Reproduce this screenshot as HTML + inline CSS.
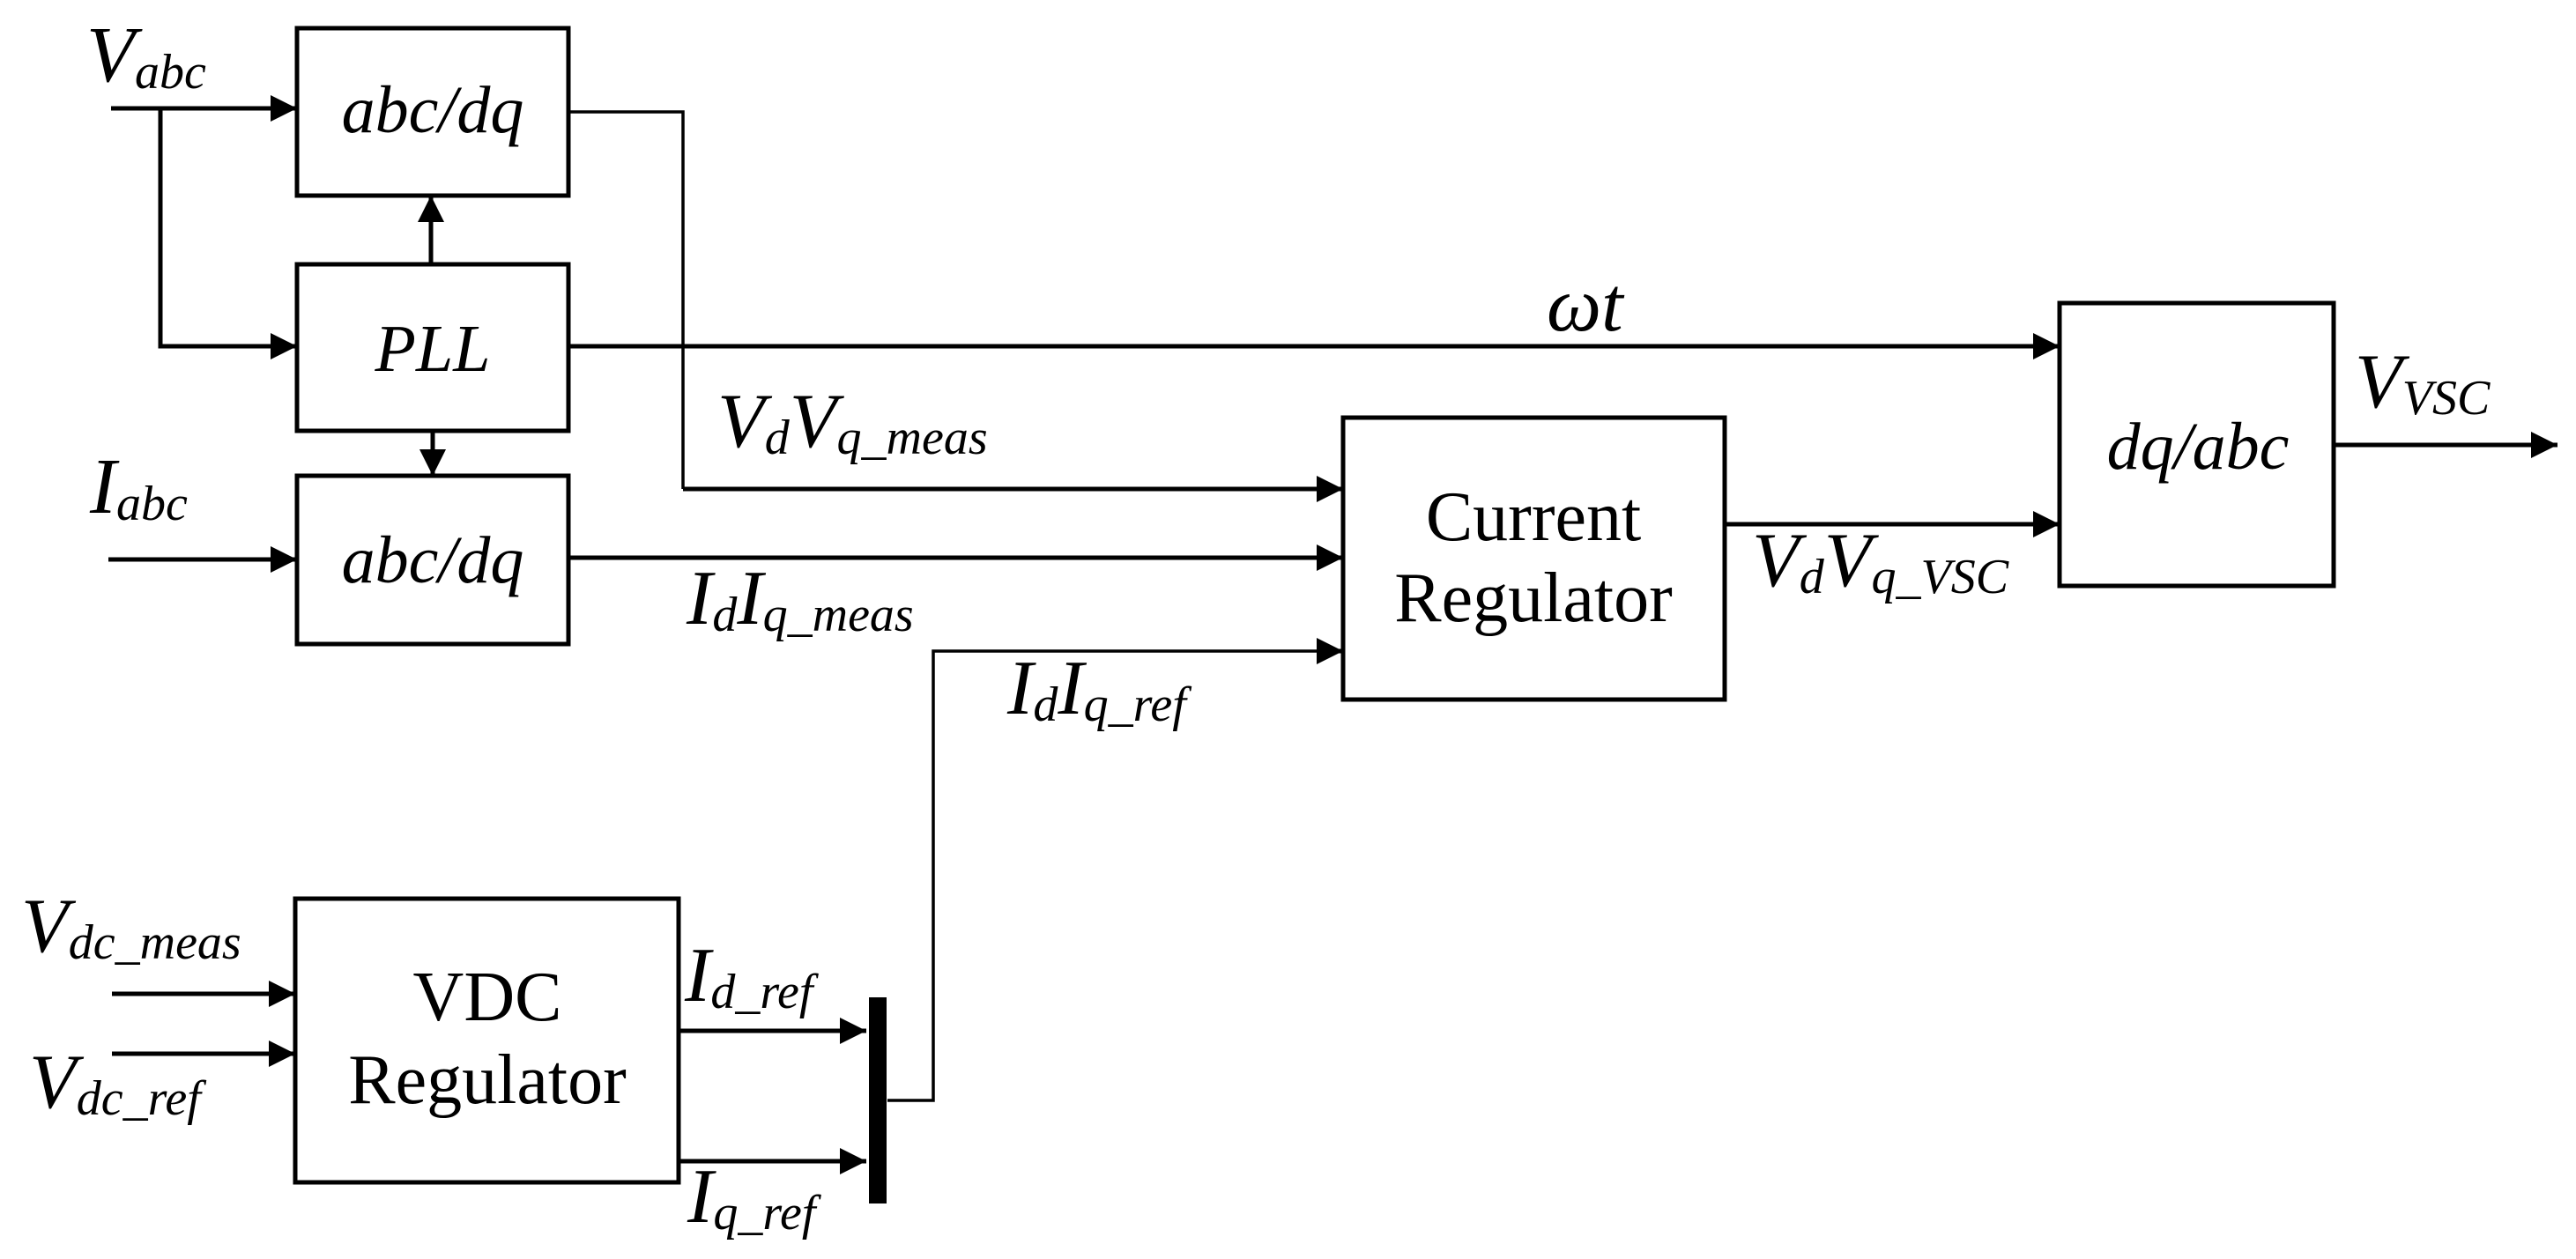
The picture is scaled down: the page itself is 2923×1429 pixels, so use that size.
<!DOCTYPE html>
<html><head><meta charset="utf-8"><style>
html,body{margin:0;padding:0;background:#fff;}
svg{display:block;}
text{font-family:"Liberation Serif",serif;fill:#000;}
.i{font-style:italic;}
</style></head><body>
<svg width="2923" height="1429" viewBox="0 0 2923 1429" xmlns="http://www.w3.org/2000/svg">
<defs>
<marker id="a" viewBox="0 0 10 10" refX="10" refY="5" markerWidth="32" markerHeight="30" markerUnits="userSpaceOnUse" orient="auto">
<path d="M0,0 L10,5 L0,10 z" fill="#000"/></marker>
</defs>
<g fill="none" stroke="#000" stroke-width="5">
<rect x="337" y="32" width="308" height="190"/>
<rect x="337" y="300" width="308" height="189"/>
<rect x="337" y="540" width="308" height="191"/>
<rect x="1524" y="474" width="433" height="320"/>
<rect x="2337" y="344" width="311" height="321"/>
<rect x="335" y="1020" width="435" height="322"/>
</g>
<g fill="none" stroke="#000" stroke-width="5">
<line x1="126" y1="123" x2="337" y2="123" marker-end="url(#a)"/>
<polyline points="182,123 182,393 337,393" marker-end="url(#a)"/>
<line x1="489" y1="300" x2="489" y2="222" marker-end="url(#a)"/>
<line x1="491" y1="489" x2="491" y2="540" marker-end="url(#a)"/>
<line x1="123" y1="635" x2="337" y2="635" marker-end="url(#a)"/>
<line x1="645" y1="393" x2="2337" y2="393" marker-end="url(#a)"/>
<line x1="645" y1="633" x2="1524" y2="633" marker-end="url(#a)"/>
<line x1="775" y1="555" x2="1524" y2="555" marker-end="url(#a)"/>
<line x1="1957" y1="595" x2="2337" y2="595" marker-end="url(#a)"/>
<line x1="2648" y1="505" x2="2902" y2="505" marker-end="url(#a)"/>
<line x1="127" y1="1128" x2="335" y2="1128" marker-end="url(#a)"/>
<line x1="127" y1="1196" x2="335" y2="1196" marker-end="url(#a)"/>
<line x1="770" y1="1170" x2="983" y2="1170" marker-end="url(#a)"/>
<line x1="770" y1="1318" x2="983" y2="1318" marker-end="url(#a)"/>
</g>
<g fill="none" stroke="#000" stroke-width="3.5">
<polyline points="645,127 775,127 775,555"/>
<polyline points="1007,1249 1059,1249 1059,739 1500,739"/>
</g>
<line x1="1500" y1="739" x2="1524" y2="739" stroke="#000" stroke-width="5" marker-end="url(#a)"/>
<rect x="986" y="1132" width="20" height="234" fill="#000"/>

<text class="i" x="491" y="150" font-size="76" text-anchor="middle">abc/dq</text>
<text class="i" x="491" y="421" font-size="76" text-anchor="middle">PLL</text>
<text class="i" x="491" y="661" font-size="76" text-anchor="middle">abc/dq</text>
<text class="i" x="2494" y="532" font-size="76" text-anchor="middle">dq/abc</text>
<text x="1740" y="613" font-size="80" text-anchor="middle">Current</text>
<text x="1740" y="705" font-size="80" text-anchor="middle">Regulator</text>
<text x="553" y="1158" font-size="80" text-anchor="middle">VDC</text>
<text x="553" y="1252" font-size="80" text-anchor="middle">Regulator</text>

<text class="i" x="98" y="92" font-size="90">V<tspan font-size="56" dy="8">abc</tspan></text>
<text class="i" x="102" y="582" font-size="90">I<tspan font-size="56" dy="8">abc</tspan></text>
<text class="i" x="1755" y="375" font-size="88">ωt</text>
<text class="i" x="814" y="507" font-size="88">V<tspan font-size="56" dy="8">d</tspan><tspan dy="-8">V</tspan><tspan font-size="56" dy="8">q_meas</tspan></text>
<text class="i" x="779" y="708" font-size="88">I<tspan font-size="56" dy="8">d</tspan><tspan dy="-8">I</tspan><tspan font-size="56" dy="8">q_meas</tspan></text>
<text class="i" x="1143" y="810" font-size="88">I<tspan font-size="56" dy="8">d</tspan><tspan dy="-8">I</tspan><tspan font-size="56" dy="8">q_ref</tspan></text>
<text class="i" x="1988" y="665" font-size="88">V<tspan font-size="56" dy="8">d</tspan><tspan dy="-8">V</tspan><tspan font-size="56" dy="8">q_VSC</tspan></text>
<text class="i" x="2672" y="462" font-size="88">V<tspan font-size="56" dy="8">VSC</tspan></text>
<text class="i" x="24" y="1080" font-size="88">V<tspan font-size="56" dy="8">dc_meas</tspan></text>
<text class="i" x="33" y="1257" font-size="88">V<tspan font-size="56" dy="8">dc_ref</tspan></text>
<text class="i" x="777" y="1136" font-size="88">I<tspan font-size="56" dy="8">d_ref</tspan></text>
<text class="i" x="780" y="1387" font-size="88">I<tspan font-size="56" dy="8">q_ref</tspan></text>
</svg>
</body></html>
